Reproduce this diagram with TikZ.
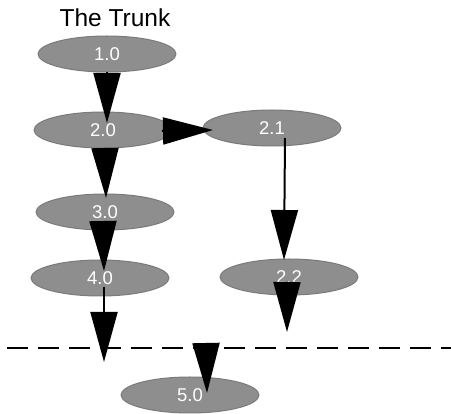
\documentclass[tikz,border=0pt]{standalone}
\usepackage{fontspec}
\setmainfont{Liberation Sans}
\usetikzlibrary{shapes.geometric,arrows.meta}
\definecolor{ellfill}{HTML}{8E8E8E}
\definecolor{elledge}{HTML}{7A7A7A}
\tikzset{
  blob/.style={ellipse, fill=ellfill, draw=elledge, line width=1pt,
    minimum width=138pt, minimum height=36pt, inner sep=0pt,
    text=white, font=\fontsize{18.5}{20}\selectfont},
  bigarrow/.style={line width=2pt, -{Triangle[length=50pt,width=27pt]}},
  cutline/.style={line width=2pt, dash pattern=on 21pt off 10pt}
}
\begin{document}
\begin{tikzpicture}[x=1pt,y=-1pt]
\useasboundingbox (0,0) rectangle (451,414);
\node[font=\fontsize{24.5}{28}\selectfont, anchor=base] (title) at (115,26.5) {The Trunk};
\node[blob] (n10) at (107,54) {1.0};
\node[blob] (n20) at (103,130) {2.0};
\node[blob] (n21) at (272,128) {2.1};
\node[blob] (n30) at (105,212) {3.0};
\node[blob] (n40) at (100,278) {4.0};
\node[blob] (n22) at (289,277) {2.2};
\node[blob] (n50) at (190,395) {5.0};
% connector ends
\coordinate (a0) at (107,72);  \coordinate (a1) at (107,123);
\coordinate (b0) at (105,148); \coordinate (b1) at (106,198);
\coordinate (c0) at (162,131); \coordinate (c1) at (213,130);
\coordinate (d0) at (285,138); \coordinate (d1) at (284,260);
\coordinate (e0) at (103,222); \coordinate (e1) at (104,271);
\coordinate (f0) at (104,287); \coordinate (f1) at (104,362);
\coordinate (g0) at (287,283); \coordinate (g1) at (287,332);
\coordinate (h0) at (206,343); \coordinate (h1) at (207,393);
\coordinate (dl) at (7,348);   \coordinate (dr) at (451,348);
\draw[cutline] (dl) -- (dr);
\draw[bigarrow] (a0) -- (a1);
\draw[bigarrow] (b0) -- (b1);
\draw[bigarrow] (c0) -- (c1);
\draw[bigarrow] (d0) -- (d1);
\draw[bigarrow] (e0) -- (e1);
\draw[bigarrow] (f0) -- (f1);
\draw[bigarrow] (g0) -- (g1);
\draw[bigarrow] (h0) -- (h1);
\end{tikzpicture}
\end{document}
